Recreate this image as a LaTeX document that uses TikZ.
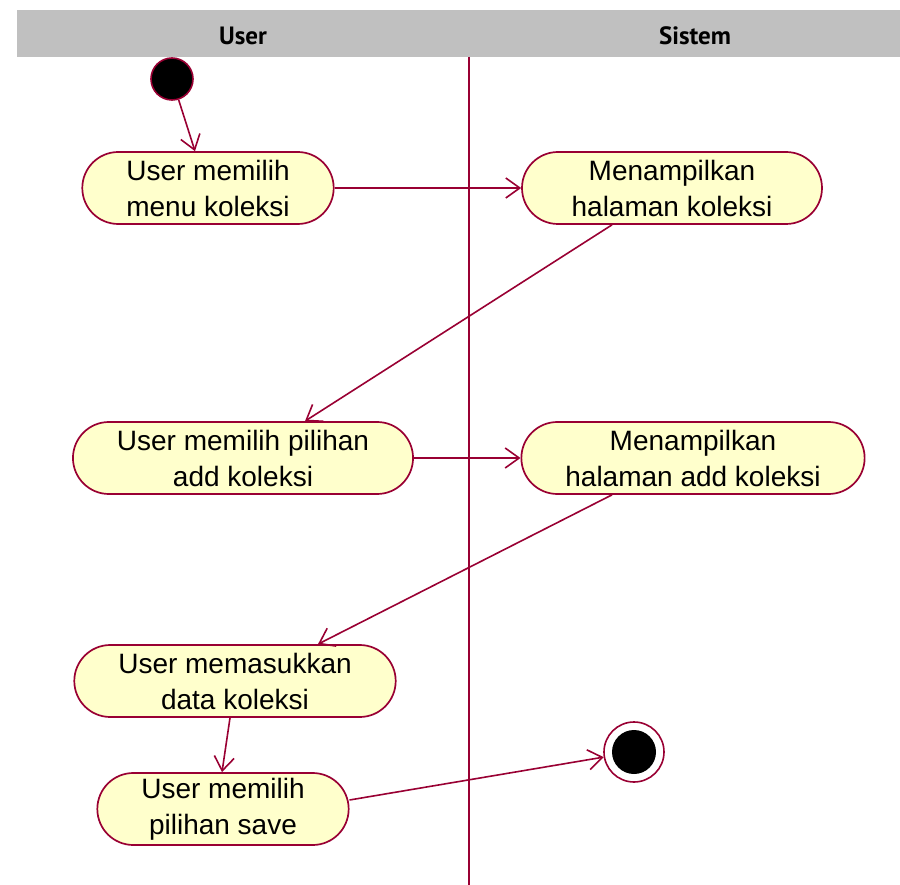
\documentclass[tikz,border=0pt]{standalone}
\usepackage{fontspec}
\setmainfont{Liberation Sans}
\newfontfamily\headfont{PT Sans}
\usepackage{tikz}
\usetikzlibrary{arrows.meta}
\definecolor{umlred}{RGB}{153,0,51}
\definecolor{umlfill}{RGB}{255,255,204}
\definecolor{lanegray}{RGB}{192,192,192}

\begin{document}
\begin{tikzpicture}[x=1pt,y=-1pt,>={Straight Barb[length=14pt,width=20pt]}]
\tikzstyle{act}=[draw=umlred,fill=umlfill,line width=1.7pt,rounded corners=36pt,
  minimum height=72pt,inner xsep=44pt,inner ysep=0pt,align=center,
  font=\fontsize{28}{36}\selectfont];
\tikzstyle{flow}=[draw=umlred,line width=1.6pt,->];
\tikzstyle{lane}=[font=\headfont\bfseries\fontsize{25}{25}\selectfont];
\useasboundingbox (0,0) rectangle (900,885);
% swimlanes
    \fill[lanegray] (17,10) rectangle (900,57);
    \node[lane] (luser) at (243,36) {User};
    \node[lane] (lsys) at (695,36) {Sistem};
    \draw[umlred,line width=1.8pt] (469,57) -- (469,885);
% nodes
    \node[circle,draw=umlred,fill=black,line width=1.6pt,minimum size=42pt,inner sep=0pt] (start) at (172,79) {};
    \node[act] (a1) at (208,188) {User memilih\\menu koleksi};
    \node[act,minimum width=300pt] (s1) at (672,188) {Menampilkan\\halaman koleksi};
    \node[act] (a2) at (243,458) {User memilih pilihan\\add koleksi};
    \node[act] (s2) at (693,458) {Menampilkan\\halaman add koleksi};
    \node[act] (a3) at (235,681) {User memasukkan\\data koleksi};
    \node[act] (a4) at (223,809) {User memilih\\pilihan save};
    \node[circle,draw=umlred,line width=1.6pt,minimum size=60pt,inner sep=0pt] (fin) at (634,752) {};
    \node[circle,fill=black,minimum size=44pt,inner sep=0pt] (fincore) at (fin) {};
% edges
    \draw[flow] (start) -- ([xshift=-13pt]a1.north);
    \draw[flow] (a1.east) -- (s1.west);
    \draw[flow] ([xshift=-60pt]s1.south) -- ([xshift=62pt]a2.north);
    \draw[flow] (a2.east) -- (s2.west);
    \draw[flow] ([xshift=-81pt]s2.south) -- ([xshift=83pt]a3.north);
    \draw[flow] ([xshift=-5pt]a3.south) -- ([xshift=-1pt]a4.north);
    \draw[flow] ([yshift=9pt]a4.east) -- (fin);
\end{tikzpicture}
\end{document}
